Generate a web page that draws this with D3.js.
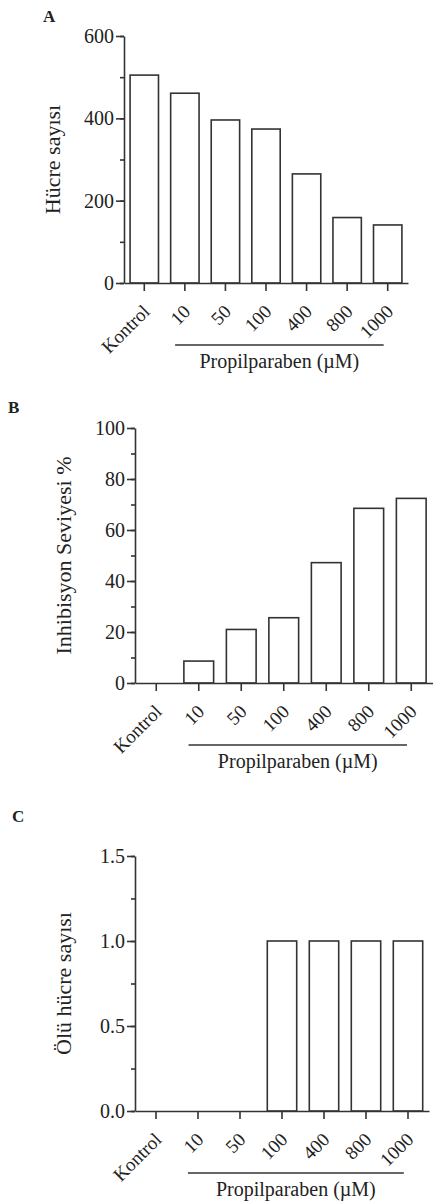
<!DOCTYPE html>
<html>
<head>
<meta charset="utf-8">
<title>Propilparaben</title>
<script src="https://d3js.org/d3.v7.min.js"></script>
<style>
body { margin:0; background:#fff; }
text { font-family:"Liberation Serif","Times New Roman",serif; fill:#222; }
</style>
</head>
<body>
<script>
var categories = ["Kontrol", "10", "50", "100", "400", "800", "1000"];
var cellCount = [505, 461, 396, 374, 265, 159, 141];
var inhibition = [0, 8.6, 21, 25.6, 47.2, 68.5, 72.4];
var deadCells = [0, 0, 0, 1, 1, 1, 1];
var ticksA = [0, 200, 400, 600];
var ticksB = [0, 20, 40, 60, 80, 100];
var ticksC = [0, 0.5, 1.0, 1.5];
var xTitle = "Propilparaben (\u00b5M)";

var width = 433, height = 1202;
var svg = d3.select('body').append('svg').attr('width', width).attr('height', height);

// one panel = letter, y axis with minor ticks, bars, rotated labels, underline + title
function panel(opt) {
	var g = svg.append('g');
	var x = d3.scaleBand().domain(categories).range([opt.left, opt.right])
		.paddingInner(0.3).paddingOuter(0.15);
	var y = d3.scaleLinear().domain([0, opt.max]).range([opt.bottom, opt.top]);

	g.append('text').attr('x', opt.letter[0]).attr('y', opt.letter[1])
		.attr('font-size', 17).attr('font-weight', 'bold').text(opt.name);

	g.selectAll('rect').data(opt.values).enter().append('rect')
		.attr('x', function(d, i){ return x(categories[i]); })
		.attr('y', function(d){ return y(d); })
		.attr('width', x.bandwidth())
		.attr('height', function(d){ return y(0) - y(d); })
		.attr('fill', '#fff').attr('stroke', '#333').attr('stroke-width', 1.6);

	// minor ticks
	g.append('g').attr('transform', 'translate(' + opt.left + ',0)')
		.call(d3.axisLeft(y).tickValues(opt.minor).tickSize(4).tickFormat('').tickSizeOuter(0))
		.call(function(a){ a.select('.domain').remove(); });

	var ya = g.append('g').attr('transform', 'translate(' + opt.left + ',0)')
		.call(d3.axisLeft(y).tickValues(opt.ticks).tickSize(8).tickSizeOuter(0).tickFormat(opt.fmt));
	ya.selectAll('text').attr('font-size', 20).attr('x', -10);

	var xa = g.append('g').attr('transform', 'translate(0,' + opt.bottom + ')')
		.call(d3.axisBottom(x).tickSize(8).tickSizeOuter(0));
	xa.selectAll('text').attr('font-size', 19).attr('x', 0).attr('y', 0).attr('dy', '0.35em')
		.attr('text-anchor', 'end').attr('transform', 'translate(2,25) rotate(-45)');

	g.selectAll('.domain, .tick line').attr('stroke', '#333').attr('stroke-width', 1.6);

	var step = x.step();
	var x1 = x('10') + x.bandwidth() / 2 - 0.24 * step;
	var x2 = x('1000') + x.bandwidth() / 2 - 0.1 * step;
	g.append('line').attr('x1', x1).attr('x2', x2).attr('y1', opt.bottom + 62).attr('y2', opt.bottom + 62)
		.attr('stroke', '#333').attr('stroke-width', 1.5);
	g.append('text').attr('x', (x1 + x2) / 2).attr('y', opt.bottom + 85)
		.attr('text-anchor', 'middle').attr('font-size', 20).text(xTitle);

	g.append('text').attr('transform', 'translate(' + (opt.left - 64) + ',' + ((opt.top + opt.bottom) / 2) + ') rotate(-90)')
		.attr('text-anchor', 'middle').attr('font-size', 22).text(opt.ylabel);
}

panel({ name:'A', letter:[43, 22], values:cellCount, max:600, ticks:ticksA, minor:d3.range(0, 601, 100),
	fmt:d3.format('d'), left:124, right:408, top:36, bottom:283, ylabel:'H\u00fccre say\u0131s\u0131' });
panel({ name:'B', letter:[8, 413], values:inhibition, max:100, ticks:ticksB, minor:d3.range(0, 101, 10),
	fmt:d3.format('d'), left:135, right:432.5, top:428, bottom:683, ylabel:'Inhibisyon Seviyesi %' });
panel({ name:'C', letter:[12, 822], values:deadCells, max:1.5, ticks:ticksC, minor:d3.range(0, 1.51, 0.25),
	fmt:d3.format('.1f'), left:135, right:429, top:856, bottom:1111, ylabel:'\u00d6l\u00fc h\u00fccre say\u0131s\u0131' });
</script>
</body>
</html>
